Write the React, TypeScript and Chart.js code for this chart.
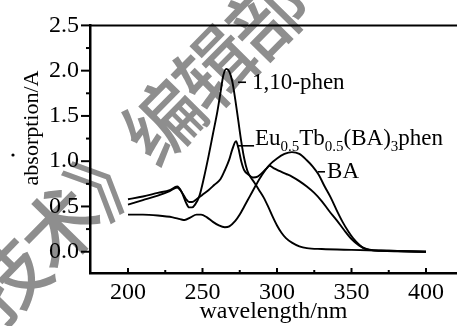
import React, { useEffect, useRef } from "react";
import { Chart, registerables } from "chart.js";

Chart.register(...registerables);

// ---- data ----
const phenWl = [200, 210, 220, 228, 233, 236, 239, 241, 243, 245, 248, 251, 254, 257, 260, 262, 264, 266, 268, 270, 272, 274, 276, 278, 280, 282, 285, 288, 291, 294, 297, 300, 303, 306, 310, 315, 320, 330, 350, 375, 400];
const phenAbs = [0.58, 0.61, 0.65, 0.68, 0.72, 0.66, 0.54, 0.49, 0.49, 0.52, 0.62, 0.82, 1.05, 1.30, 1.55, 1.75, 1.95, 2.02, 1.99, 1.88, 1.68, 1.45, 1.22, 1.03, 0.90, 0.83, 0.76, 0.68, 0.60, 0.50, 0.39, 0.29, 0.21, 0.15, 0.10, 0.06, 0.04, 0.03, 0.02, 0.01, 0.0];

const complexWl = [200, 210, 220, 228, 233, 236, 239, 241, 243, 246, 250, 254, 258, 262, 265, 268, 270, 272.5, 274, 276, 278, 281, 284, 287, 290, 293, 295, 298, 302, 306, 310, 315, 320, 325, 330, 335, 340, 345, 350, 355, 360, 365, 375, 400];
const complexAbs = [0.52, 0.57, 0.62, 0.67, 0.71, 0.66, 0.58, 0.55, 0.55, 0.58, 0.63, 0.68, 0.74, 0.80, 0.90, 1.02, 1.13, 1.22, 1.15, 1.00, 0.90, 0.85, 0.82, 0.83, 0.87, 0.92, 0.95, 0.92, 0.89, 0.86, 0.83, 0.78, 0.72, 0.65, 0.56, 0.45, 0.35, 0.24, 0.14, 0.07, 0.03, 0.015, 0.01, 0.0];

const baWl = [200, 210, 220, 230, 235, 238, 242, 246, 249, 253, 257, 261, 265, 268, 272, 275, 278, 282, 286, 290, 295, 300, 305, 310, 315, 320, 324, 328, 332, 336, 340, 344, 348, 351, 355, 358, 362, 370, 400];
const baAbs = [0.41, 0.41, 0.40, 0.38, 0.36, 0.35, 0.38, 0.41, 0.41, 0.38, 0.33, 0.29, 0.27, 0.28, 0.34, 0.41, 0.50, 0.62, 0.74, 0.85, 0.96, 1.03, 1.08, 1.10, 1.08, 1.01, 0.94, 0.85, 0.72, 0.60, 0.46, 0.33, 0.22, 0.15, 0.08, 0.04, 0.02, 0.01, 0.0];

const xTicks = [200, 250, 300, 350, 400];
const xMinorTicks = [225, 275, 325, 375];
const yTicks = [0, 0.5, 1.0, 1.5, 2.0, 2.5];
const yMinorTicks = [0.25, 0.75, 1.25, 1.75, 2.25];

const xTitle = "wavelength/nm";
const yTitle = "absorption/A";

// curve labels: leader from x0 to x1 at leaderY, text starting at tx with baseline ty (data units)
const curveLabels = [
  { parts: [["1,10-phen", false]], x0: 273.8, x1: 279.2, leaderY: 1.872, tx: 283.2, ty: 1.80 },
  {
    parts: [["Eu", false], ["0.5", true], ["Tb", false], ["0.5", true], ["(BA)", false], ["3", true], ["phen", false]],
    x0: 273.8, x1: 284.6, leaderY: 1.17, tx: 285.2, ty: 1.18,
  },
  { parts: [["BA", false]], x0: 327.5, x1: 332.2, leaderY: 0.883, tx: 333.6, ty: 0.81 },
];

const watermarkChars = ["技", "术", "》", "编", "辑", "部"];

const SERIF = "'Liberation Serif', 'Times New Roman', serif";

function pts(xs: number[], ys: number[]) {
  return xs.map((x, i) => ({ x, y: ys[i] }));
}

const decorPlugin = {
  id: "decor",
  beforeDraw(chart: any) {
    const ctx = chart.ctx;
    ctx.save();
    ctx.fillStyle = "#8e8e8e";
    ctx.font = "500 78px 'Noto Sans CJK SC'";
    ctx.textAlign = "center";
    ctx.textBaseline = "middle";
    const ang = (-45.5 * Math.PI) / 180;
    const start = { x: 8, y: 279 };
    const step = 73.8;
    watermarkChars.forEach((c, i) => {
      const cx = start.x + Math.cos(ang) * step * i;
      const cy = start.y + Math.sin(ang) * step * i;
      ctx.save();
      ctx.translate(cx, cy);
      ctx.rotate(ang);
      ctx.fillText(c, 0, 0);
      ctx.restore();
    });
    ctx.restore();
  },
  afterDraw(chart: any) {
    const ctx = chart.ctx;
    const { left, right, top, bottom } = chart.chartArea;
    const xs = chart.scales.x;
    const ys = chart.scales.y;
    ctx.save();
    ctx.strokeStyle = "#000";
    ctx.fillStyle = "#000";
    // top frame line
    ctx.lineWidth = 2;
    ctx.beginPath();
    ctx.moveTo(left, top);
    ctx.lineTo(right, top);
    ctx.stroke();
    // y ticks (outward)
    ctx.lineWidth = 2;
    yTicks.forEach((v) => {
      const p = ys.getPixelForValue(v);
      ctx.beginPath();
      ctx.moveTo(left - 9, p);
      ctx.lineTo(left, p);
      ctx.stroke();
    });
    yMinorTicks.forEach((v) => {
      const p = ys.getPixelForValue(v);
      ctx.beginPath();
      ctx.moveTo(left - 4, p);
      ctx.lineTo(left, p);
      ctx.stroke();
    });
    // x ticks (inward)
    xTicks.forEach((v) => {
      const p = xs.getPixelForValue(v);
      ctx.beginPath();
      ctx.moveTo(p, bottom);
      ctx.lineTo(p, bottom - 5);
      ctx.stroke();
    });
    xMinorTicks.forEach((v) => {
      const p = xs.getPixelForValue(v);
      ctx.beginPath();
      ctx.moveTo(p, bottom);
      ctx.lineTo(p, bottom - 3);
      ctx.stroke();
    });
    // y-axis title (placed as in the reference, above the axis centre)
    ctx.save();
    ctx.translate(32, 128);
    ctx.rotate(-Math.PI / 2);
    ctx.font = `22px ${SERIF}`;
    ctx.textAlign = "center";
    ctx.textBaseline = "middle";
    ctx.fillText(yTitle, 0, 0);
    ctx.restore();
    // stray dot left of the y title
    ctx.beginPath();
    ctx.arc(13, 155, 1.6, 0, Math.PI * 2);
    ctx.fill();
    // curve labels
    ctx.lineWidth = 1.6;
    ctx.textBaseline = "alphabetic";
    ctx.textAlign = "left";
    curveLabels.forEach((lab) => {
      const ly = ys.getPixelForValue(lab.leaderY);
      ctx.beginPath();
      ctx.moveTo(xs.getPixelForValue(lab.x0), ly);
      ctx.lineTo(xs.getPixelForValue(lab.x1), ly);
      ctx.stroke();
      let tx = xs.getPixelForValue(lab.tx);
      const ty = ys.getPixelForValue(lab.ty);
      lab.parts.forEach(([t, sub]) => {
        ctx.font = sub ? `15px ${SERIF}` : `23px ${SERIF}`;
        ctx.fillText(t as string, tx, sub ? ty + 6 : ty);
        tx += ctx.measureText(t as string).width;
      });
    });
    ctx.restore();
  },
};

export default function App() {
  const ref = useRef<HTMLCanvasElement | null>(null);

  useEffect(() => {
    if (!ref.current) return;
    const line = (data: { x: number; y: number }[]) => ({
      data,
      borderColor: "#000",
      borderWidth: 1.9,
      pointRadius: 0,
      fill: false,
      cubicInterpolationMode: "monotone" as const,
    });
    const chart = new Chart(ref.current, {
      type: "line",
      data: {
        datasets: [
          { label: "1,10-phen", ...line(pts(phenWl, phenAbs)) },
          { label: "Eu0.5Tb0.5(BA)3phen", ...line(pts(complexWl, complexAbs)) },
          { label: "BA", ...line(pts(baWl, baAbs)) },
        ],
      },
      options: {
        animation: false,
        responsive: false,
        devicePixelRatio: 1,
        layout: { padding: { top: 16, right: 0, left: 0, bottom: 0 } },
        plugins: { legend: { display: false }, tooltip: { enabled: false } },
        scales: {
          x: {
            type: "linear",
            min: 174.5,
            max: 420.8,
            grid: { display: true, drawOnChartArea: false, drawTicks: false },
            border: { display: true, color: "#000", width: 2.5 },
            ticks: {
              color: "#000",
              font: { family: SERIF, size: 24 },
              padding: 5,
              maxRotation: 0,
              autoSkip: false,
              callback: (v: any) => String(v),
            },
            afterBuildTicks: (s: any) => {
              s.ticks = xTicks.map((v) => ({ value: v }));
            },
            afterFit: (s: any) => {
              s.height = 53;
            },
            title: {
              display: true,
              text: xTitle,
              color: "#000",
              font: { family: SERIF, size: 24 },
              padding: { top: 0, bottom: 0 },
            },
          },
          y: {
            type: "linear",
            min: -0.235,
            max: 2.5,
            grid: { display: true, drawOnChartArea: false, drawTicks: false },
            border: { display: true, color: "#000", width: 2.5 },
            ticks: {
              color: "#000",
              font: { family: SERIF, size: 24 },
              padding: 11,
              autoSkip: false,
              callback: (v: any) => Number(v).toFixed(1),
            },
            afterBuildTicks: (s: any) => {
              s.ticks = yTicks.map((v) => ({ value: v }));
            },
            afterFit: (s: any) => {
              s.width = 90;
            },
            title: { display: false },
          },
        },
      },
      plugins: [decorPlugin],
    });
    return () => chart.destroy();
  }, []);

  return (
    <div style={{ position: "absolute", left: 0, top: 0, width: 457, height: 326, background: "#fff" }}>
      <canvas ref={ref} width={457} height={326} style={{ display: "block" }} />
    </div>
  );
}
